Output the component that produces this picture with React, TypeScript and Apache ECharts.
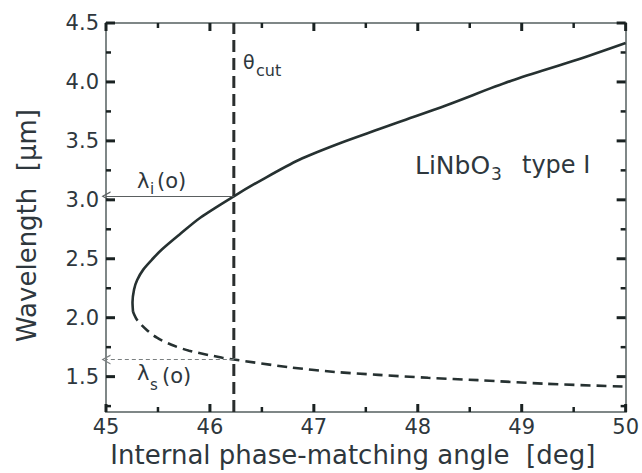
import React, { useEffect, useRef } from 'react';
import * as echarts from 'echarts';

const xMin = 45;
const xMax = 50;
const yMin = 1.2;
const yMax = 4.5;
const xMajorTicks = [45, 46, 47, 48, 49, 50];
const xMinorTicks = [45.5, 46.5, 47.5, 48.5, 49.5];
const yMajorTicks = [1.5, 2.0, 2.5, 3.0, 3.5, 4.0, 4.5];
const yMinorTicks = [1.25, 1.75, 2.25, 2.75, 3.25, 3.75, 4.25];

// idler branch (solid)
const idlerAngle = [45.26, 45.255, 45.27, 45.3, 45.36, 45.45, 45.54, 45.7, 45.91, 46.23, 46.5, 46.86, 47.25, 47.63, 47.82, 48.27, 48.9, 49.54, 50.0];
const idlerWavelength = [2.05, 2.13, 2.24, 2.32, 2.41, 2.5, 2.58, 2.7, 2.85, 3.03, 3.17, 3.34, 3.48, 3.6, 3.66, 3.8, 4.01, 4.19, 4.33];

// signal branch (dashed)
const signalAngle = [45.26, 45.3, 45.4, 45.49, 45.63, 45.8, 46.12, 46.23, 46.76, 47.2, 47.62, 48.1, 48.58, 49.22, 50.0];
const signalWavelength = [2.05, 1.98, 1.89, 1.83, 1.77, 1.72, 1.66, 1.645, 1.58, 1.54, 1.515, 1.49, 1.47, 1.44, 1.415];

const thetaCut = 46.23;
const idlerAtCut = 3.03;
const signalAtCut = 1.645;

const FONT = 'DejaVu Sans';
const TXT = '#2e373d';
const AXIS = '#7f8787';
const TICK = '#1a2222';
const CURVE = '#263131';

const chevron = 'path://M0,10 L5,0 L10,10 L8.6,10 L5,2.6 L1.4,10 Z';

export default function App() {
  const ref = useRef<HTMLDivElement>(null);
  useEffect(() => {
    if (!ref.current) return;
    const chart = echarts.init(ref.current, null, { renderer: 'svg' });
    const idler = idlerAngle.map((a, i) => [a, idlerWavelength[i]]);
    const signal = signalAngle.map((a, i) => [a, signalWavelength[i]]);

    // inward ticks on all four sides, drawn as small rects through the axes' scales
    const xTickSeries = (values: number[], len: number, w: number) => ({
      type: 'custom',
      xAxisIndex: 0,
      yAxisIndex: 0,
      silent: true,
      z: 5,
      data: values.map((v) => [v, 3.0]),
      renderItem: (_p: any, api: any) => {
        const v = api.value(0);
        const b = api.coord([v, yMin]);
        const t = api.coord([v, yMax]);
        return {
          type: 'group',
          children: [
            { type: 'rect', shape: { x: b[0] - w / 2, y: b[1] - len, width: w, height: len }, style: { fill: TICK } },
            { type: 'rect', shape: { x: t[0] - w / 2, y: t[1], width: w, height: len }, style: { fill: TICK } },
          ],
        };
      },
    });
    const yTickSeries = (values: number[], len: number, w: number) => ({
      type: 'custom',
      xAxisIndex: 0,
      yAxisIndex: 0,
      silent: true,
      z: 5,
      data: values.map((v) => [47.5, v]),
      renderItem: (_p: any, api: any) => {
        const v = api.value(1);
        const l = api.coord([xMin, v]);
        const r = api.coord([xMax, v]);
        return {
          type: 'group',
          children: [
            { type: 'rect', shape: { x: l[0], y: l[1] - w / 2, width: len, height: w }, style: { fill: TICK } },
            { type: 'rect', shape: { x: r[0] - len, y: r[1] - w / 2, width: len, height: w }, style: { fill: TICK } },
          ],
        };
      },
    });

    const xFrame = (pos: 'bottom' | 'top', withLabels: boolean) => ({
      type: 'value',
      min: xMin,
      max: xMax,
      interval: 1,
      position: pos,
      splitLine: { show: false },
      axisLine: { show: true, onZero: false, lineStyle: { color: AXIS, width: 2 } },
      axisTick: { show: false },
      minorTick: { show: false },
      axisLabel: withLabels
        ? { show: true, fontSize: 21, fontFamily: FONT, color: TXT, margin: 4 }
        : { show: false },
      name: withLabels ? 'Internal phase-matching angle  [deg]' : '',
      nameLocation: 'middle',
      nameGap: 30,
      nameTextStyle: { fontSize: 26, fontFamily: FONT, color: TXT, padding: [0, 26, 0, 0] },
    });
    const yFrame = (pos: 'left' | 'right', withLabels: boolean) => ({
      type: 'value',
      min: yMin,
      max: yMax,
      position: pos,
      splitLine: { show: false },
      axisLine: { show: true, onZero: false, lineStyle: { color: AXIS, width: 2 } },
      axisTick: { show: false },
      axisLabel: withLabels
        ? {
            show: true,
            customValues: yMajorTicks,
            formatter: (v: number) => v.toFixed(1),
            fontSize: 21,
            fontFamily: FONT,
            color: TXT,
            margin: 7,
          }
        : { show: false },
      name: withLabels ? 'Wavelength  [µm]' : '',
      nameLocation: 'middle',
      nameGap: 66,
      nameTextStyle: { fontSize: 26, fontFamily: FONT, color: TXT, padding: [0, 16, 0, 0] },
    });

    chart.setOption({
      animation: false,
      backgroundColor: '#ffffff',
      grid: { left: 106, right: 14, top: 23, bottom: 61, containLabel: false },
      xAxis: [xFrame('bottom', true), xFrame('top', false)],
      yAxis: [yFrame('left', true), yFrame('right', false)],
      series: [
        xTickSeries(xMajorTicks, 8, 3),
        xTickSeries(xMinorTicks, 5, 2.5),
        yTickSeries(yMajorTicks, 9, 3),
        yTickSeries(yMinorTicks, 5, 2.5),
        {
          type: 'line',
          name: 'idler',
          xAxisIndex: 0,
          yAxisIndex: 0,
          data: idler,
          showSymbol: false,
          smooth: 0.3,
          lineStyle: { color: CURVE, width: 2.6 },
          markLine: {
            silent: true,
            symbol: ['none', chevron],
            symbolSize: [10, 9],
            label: { show: false },
            lineStyle: { color: '#5a5f60', width: 1.2, type: 'solid' },
            data: [[{ coord: [thetaCut, idlerAtCut] }, { coord: [xMin, idlerAtCut] }]],
          },
        },
        {
          type: 'line',
          name: 'signal',
          xAxisIndex: 0,
          yAxisIndex: 0,
          data: signal,
          showSymbol: false,
          smooth: 0.3,
          lineStyle: { color: CURVE, width: 2.6, type: [10, 6] },
          markLine: {
            silent: true,
            symbol: ['none', chevron],
            symbolSize: [10, 9],
            label: { show: false },
            lineStyle: { color: '#7a7f80', width: 1.2, type: [4, 3] },
            data: [[{ coord: [thetaCut, signalAtCut] }, { coord: [xMin, signalAtCut] }]],
          },
        },
        {
          type: 'line',
          name: 'cut',
          xAxisIndex: 0,
          yAxisIndex: 0,
          data: [
            [thetaCut, yMin],
            [thetaCut, yMax],
          ],
          showSymbol: false,
          lineStyle: { color: '#2a2e2e', width: 3, type: [12, 6] },
        },
      ],
      graphic: [
        { type: 'text', x: 243, y: 62, style: { text: 'θ', font: `19px "${FONT}"`, fill: TXT, verticalAlign: 'middle' } },
        { type: 'text', x: 256, y: 70, style: { text: 'cut', font: `16px "${FONT}"`, fill: TXT, verticalAlign: 'middle' } },
        { type: 'text', x: 137, y: 181, style: { text: 'λ', font: `21px "${FONT}"`, fill: TXT, verticalAlign: 'middle' } },
        { type: 'text', x: 150, y: 189, style: { text: 'i', font: `15px "${FONT}"`, fill: TXT, verticalAlign: 'middle' } },
        { type: 'text', x: 157, y: 181, style: { text: '(o)', font: `21px "${FONT}"`, fill: TXT, verticalAlign: 'middle' } },
        { type: 'text', x: 137, y: 373, style: { text: 'λ', font: `21px "${FONT}"`, fill: TXT, verticalAlign: 'middle' } },
        { type: 'text', x: 150, y: 385, style: { text: 's', font: `15px "${FONT}"`, fill: TXT, verticalAlign: 'middle' } },
        { type: 'text', x: 162, y: 376, style: { text: '(o)', font: `21px "${FONT}"`, fill: TXT, verticalAlign: 'middle' } },
        { type: 'text', x: 415, y: 165, style: { text: 'LiNbO', font: `25px "${FONT}"`, fill: TXT, verticalAlign: 'middle' } },
        { type: 'text', x: 491, y: 174, style: { text: '3', font: `17px "${FONT}"`, fill: TXT, verticalAlign: 'middle' } },
        { type: 'text', x: 522, y: 165, style: { text: 'type I', font: `24px "${FONT}"`, fill: TXT, verticalAlign: 'middle' } },
      ],
    });
    return () => chart.dispose();
  }, []);
  return (
    <div
      ref={ref}
      style={{ position: 'fixed', left: 0, top: 0, width: 642, height: 473, background: '#fff' }}
    />
  );
}
